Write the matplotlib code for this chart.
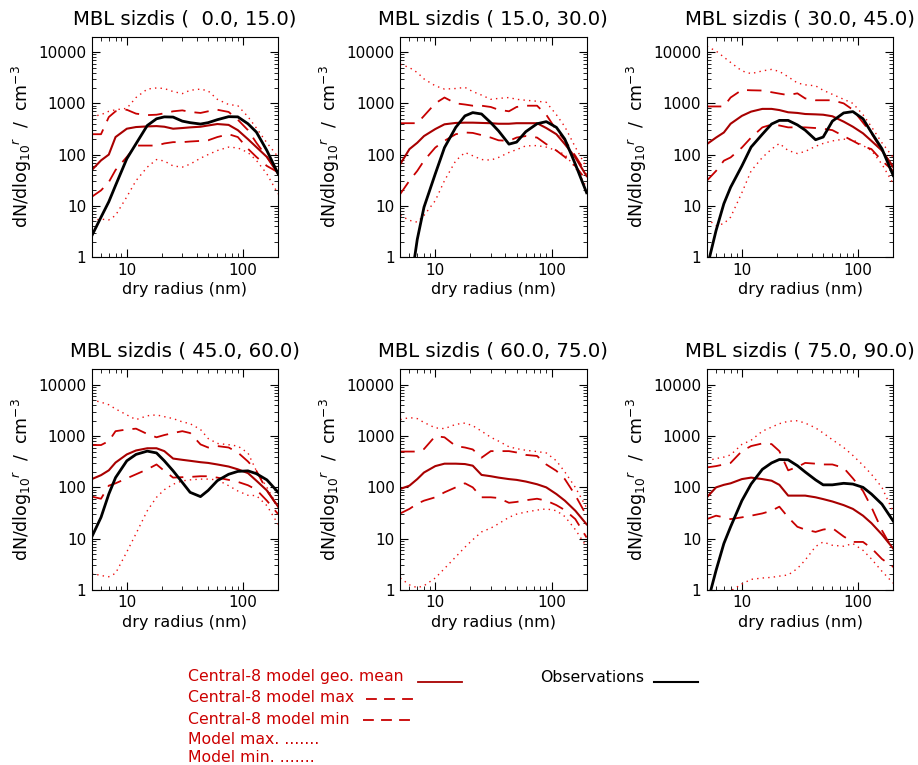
import numpy as np
import matplotlib
matplotlib.use("Agg")
import matplotlib.pyplot as plt
from matplotlib.ticker import LogLocator, FixedLocator, FixedFormatter, NullFormatter
from matplotlib.lines import Line2D

# dry radius grid (nm), shared by all curves
radius = [5, 6, 7, 8, 10, 12, 15, 18, 21, 25, 30, 35, 43, 50, 60, 75, 90, 110, 130, 160, 200]

titles = ["MBL sizdis (  0.0, 15.0)", "MBL sizdis ( 15.0, 30.0)", "MBL sizdis ( 30.0, 45.0)",
          "MBL sizdis ( 45.0, 60.0)", "MBL sizdis ( 60.0, 75.0)", "MBL sizdis ( 75.0, 90.0)"]

# observations (None where not available)
obs_1 = [2.6, 6, 12, 25, 83, 163, 370, 500, 545, 540, 450, 420, 395, 420, 480, 550, 545, 400, 275, 120, 42]
obs_2 = [0.02, 0.2, 2.2, 9.4, 42, 137, 340, 570, 660, 620, 420, 290, 160, 175, 280, 400, 440, 340, 200, 65, 18]
obs_3 = [0.6, 3.3, 11, 23, 60, 140, 250, 395, 465, 465, 380, 300, 195, 220, 450, 650, 690, 500, 270, 130, 39]
obs_4 = [10.8, 26, 74, 155, 330, 440, 510, 470, 330, 210, 125, 80, 66, 87, 135, 180, 205, 210, 185, 140, 80]
obs_5 = None
obs_6 = [0.5, 2.4, 8, 17, 55, 116, 225, 300, 350, 345, 265, 200, 140, 112, 112, 120, 116, 100, 74, 47, 22]

# central-8 model geometric mean
mean_1 = [50, 77, 100, 220, 320, 345, 355, 360, 350, 320, 330, 340, 350, 370, 395, 380, 300, 200, 140, 90, 42]
mean_2 = [65, 128, 170, 230, 315, 390, 415, 420, 420, 415, 410, 400, 400, 410, 410, 410, 330, 250, 160, 88, 38]
mean_3 = [160, 215, 270, 400, 570, 690, 780, 780, 740, 670, 650, 620, 610, 600, 560, 440, 350, 260, 185, 120, 57]
mean_4 = [145, 173, 215, 305, 440, 525, 580, 580, 510, 365, 345, 330, 310, 300, 280, 255, 225, 190, 135, 87, 42]
mean_5 = [93, 108, 145, 195, 260, 290, 290, 285, 265, 175, 165, 155, 145, 140, 130, 115, 100, 74, 55, 35, 19]
mean_6 = [64, 100, 112, 120, 145, 155, 145, 135, 112, 69, 69, 69, 64, 59, 53, 45, 38, 28, 20, 12, 6.4]

# central-8 model max
cmax_1 = [250, 250, 540, 700, 750, 630, 590, 600, 640, 700, 730, 680, 650, 700, 750, 680, 480, 300, 170, 90, 45]
cmax_2 = [410, 410, 410, 570, 1000, 1300, 1000, 950, 900, 900, 850, 750, 700, 850, 900, 900, 600, 300, 190, 95, 42]
cmax_3 = [870, 870, 870, 1300, 1830, 1800, 1780, 1650, 1550, 1450, 1570, 1250, 1150, 1150, 1150, 1000, 750, 420, 260, 120, 57]
cmax_4 = [670, 670, 800, 1250, 1350, 1400, 1100, 950, 1050, 1150, 1250, 1150, 690, 600, 640, 600, 480, 320, 210, 87, 41]
cmax_5 = [500, 500, 500, 560, 1000, 950, 640, 600, 550, 380, 510, 510, 510, 480, 430, 410, 280, 210, 145, 70, 28]
cmax_6 = [245, 260, 280, 300, 510, 640, 720, 700, 510, 215, 250, 300, 290, 280, 280, 240, 150, 85, 41, 14.5, 5.9]

# central-8 model min
cmin_1 = [15, 20, 29, 50, 90, 150, 150, 150, 165, 175, 175, 180, 185, 190, 220, 250, 220, 130, 90, 60, 45]
cmin_2 = [17, 31, 48, 76, 137, 186, 250, 270, 265, 240, 215, 190, 185, 215, 230, 215, 160, 120, 90, 60, 31]
cmin_3 = [31, 48, 76, 88, 137, 215, 340, 385, 370, 340, 340, 340, 330, 320, 300, 230, 185, 145, 128, 76, 48]
cmin_4 = [66, 60, 108, 120, 150, 180, 225, 280, 210, 155, 158, 160, 165, 165, 155, 140, 128, 110, 90, 55, 30]
cmin_5 = [31, 38, 48, 55, 64, 80, 100, 120, 100, 64, 64, 62, 50, 52, 56, 60, 55, 45, 36, 24, 10.5]
cmin_6 = [24, 28, 26, 24, 26, 28, 31, 35, 42, 26, 17, 15, 13.5, 15, 16, 11, 8.6, 8.6, 6.5, 4, 2.8]

# all-model max
mmax_1 = [550, 600, 700, 750, 800, 1300, 1900, 2000, 1950, 1700, 1550, 1800, 1900, 1750, 1200, 950, 900, 550, 330, 170, 90]
mmax_2 = [5800, 5000, 4000, 3000, 2200, 1900, 1950, 2050, 1700, 1450, 1200, 1250, 1300, 1200, 1150, 1100, 1050, 600, 350, 140, 56]
mmax_3 = [13000, 10500, 8000, 6300, 4300, 3800, 4300, 4600, 4200, 3300, 2500, 2300, 2200, 1800, 1500, 1200, 1000, 600, 350, 170, 88]
mmax_4 = [5100, 4600, 4100, 3400, 2600, 2100, 2500, 2600, 2400, 2200, 1900, 1750, 1350, 900, 720, 680, 640, 470, 210, 100, 41]
mmax_5 = [2100, 2300, 2200, 1850, 1450, 1400, 1700, 1800, 1600, 1250, 950, 800, 620, 570, 530, 500, 470, 330, 200, 100, 40]
mmax_6 = [330, 365, 390, 430, 690, 830, 1250, 1500, 1750, 1950, 2000, 1800, 1450, 1150, 850, 600, 420, 270, 180, 100, 33]

# all-model min
mmin_1 = [5.2, 5.5, 5.3, 6.5, 15, 31, 57, 80, 75, 60, 57, 65, 85, 100, 120, 140, 135, 110, 77, 42, 17]
mmin_2 = [6.5, 5.2, 4.8, 6.5, 12.6, 31, 76, 110, 95, 80, 78, 88, 110, 125, 148, 150, 140, 120, 100, 56, 23]
mmin_3 = [5.6, 4.1, 4.5, 6, 18, 48, 88, 128, 165, 120, 105, 115, 145, 165, 185, 200, 195, 150, 120, 65, 27]
mmin_4 = [2.1, 1.9, 1.8, 2.1, 5.5, 12.5, 35, 64, 90, 115, 134, 140, 145, 145, 140, 108, 85, 70, 69, 44, 19]
mmin_5 = [1.7, 1.25, 1.1, 1.2, 1.7, 2.6, 4.4, 6.8, 9.5, 13.5, 16, 19.5, 26, 30, 33, 36, 38, 35, 27, 15, 6.9]
mmin_6 = [0.6, 0.7, 0.8, 0.95, 1.3, 1.6, 1.7, 1.75, 1.85, 1.95, 2.6, 3.8, 7, 8.6, 7.4, 7.1, 8, 5.9, 4, 2.3, 1.35]

obs = [obs_1, obs_2, obs_3, obs_4, obs_5, obs_6]
means = [mean_1, mean_2, mean_3, mean_4, mean_5, mean_6]
cmaxs = [cmax_1, cmax_2, cmax_3, cmax_4, cmax_5, cmax_6]
cmins = [cmin_1, cmin_2, cmin_3, cmin_4, cmin_5, cmin_6]
mmaxs = [mmax_1, mmax_2, mmax_3, mmax_4, mmax_5, mmax_6]
mmins = [mmin_1, mmin_2, mmin_3, mmin_4, mmin_5, mmin_6]

MEAN_C = "#a80000"
DASH_C = "#c80000"
DOT_C = "#ee1010"
TEXT_C = "#cc0000"

plt.rcParams['font.family'] = ['DejaVu Sans']

fig = plt.figure(figsize=(9.18, 7.65), dpi=100)

lefts = [0.100, 0.436, 0.770]
bottoms = [0.664, 0.229]
w, h = 0.203, 0.288

for i in range(6):
    row, col = divmod(i, 3)
    ax = fig.add_axes([lefts[col], bottoms[row], w, h])
    ax.set_xscale('log')
    ax.set_yscale('log')

    ax.plot(radius, mmaxs[i], color=DOT_C, lw=1.0, ls=(0, (1, 3)))
    ax.plot(radius, mmins[i], color=DOT_C, lw=1.0, ls=(0, (1, 3)))
    ax.plot(radius, cmaxs[i], color=DASH_C, lw=1.3, ls=(0, (8, 5)))
    ax.plot(radius, cmins[i], color=DASH_C, lw=1.3, ls=(0, (8, 5)))
    ax.plot(radius, means[i], color=MEAN_C, lw=1.5)
    if obs[i] is not None:
        ax.plot(radius, obs[i], color='black', lw=2.0)

    ax.set_xlim(5, 200)
    ax.set_ylim(1, 20000)
    ax.xaxis.set_major_locator(FixedLocator([10, 100]))
    ax.xaxis.set_major_formatter(FixedFormatter(['10', '100']))
    ax.xaxis.set_minor_locator(LogLocator(base=10, subs=np.arange(2, 10)))
    ax.xaxis.set_minor_formatter(NullFormatter())
    ax.yaxis.set_major_locator(FixedLocator([1, 10, 100, 1000, 10000]))
    ax.yaxis.set_major_formatter(FixedFormatter(['1', '10', '100', '1000', '10000']))
    ax.yaxis.set_minor_locator(LogLocator(base=10, subs=np.arange(2, 10)))
    ax.yaxis.set_minor_formatter(NullFormatter())
    ax.tick_params(which='both', direction='in', top=True, right=True, labelsize=11)
    ax.tick_params(which='major', length=6, width=0.8, pad=4)
    ax.tick_params(which='minor', length=3, width=0.6)

    ax.set_title(titles[i], fontsize=14.2, pad=9)
    ax.set_xlabel('dry radius (nm)', fontsize=11.5, labelpad=3)
    ax.set_ylabel(r'dN/dlog$_{10}$$^{r}$  /  cm$^{-3}$', fontsize=12.5, labelpad=3)

# legend block drawn in figure pixel coordinates
W, H = 918.0, 765.0

def fx(px):
    return px / W

def fy(py):
    return 1 - py / H

leg_font = 11.3
fig.text(fx(188), fy(677), 'Central-8 model geo. mean', color=TEXT_C, fontsize=leg_font, va='center')
fig.add_artist(Line2D([fx(418), fx(462)], [fy(682), fy(682)], color=MEAN_C, lw=1.3))
fig.text(fx(188), fy(698), 'Central-8 model max', color=TEXT_C, fontsize=leg_font, va='center')
fig.add_artist(Line2D([fx(366), fx(414)], [fy(699), fy(699)], color=DASH_C, lw=1.3, ls=(0, (6, 4))))
fig.text(fx(188), fy(719), 'Central-8 model min', color=TEXT_C, fontsize=leg_font, va='center')
fig.add_artist(Line2D([fx(363), fx(411)], [fy(720), fy(720)], color=DASH_C, lw=1.3, ls=(0, (6, 4))))
fig.text(fx(188), fy(740), 'Model max. .......', color=TEXT_C, fontsize=leg_font, va='center')
fig.text(fx(188), fy(758), 'Model min. .......', color=TEXT_C, fontsize=leg_font, va='center')
fig.text(fx(540), fy(677), 'Observations', color='black', fontsize=leg_font, va='center')
fig.add_artist(Line2D([fx(654), fx(698)], [fy(682), fy(682)], color='black', lw=1.5))

fig.savefig('out.png', dpi=100)
